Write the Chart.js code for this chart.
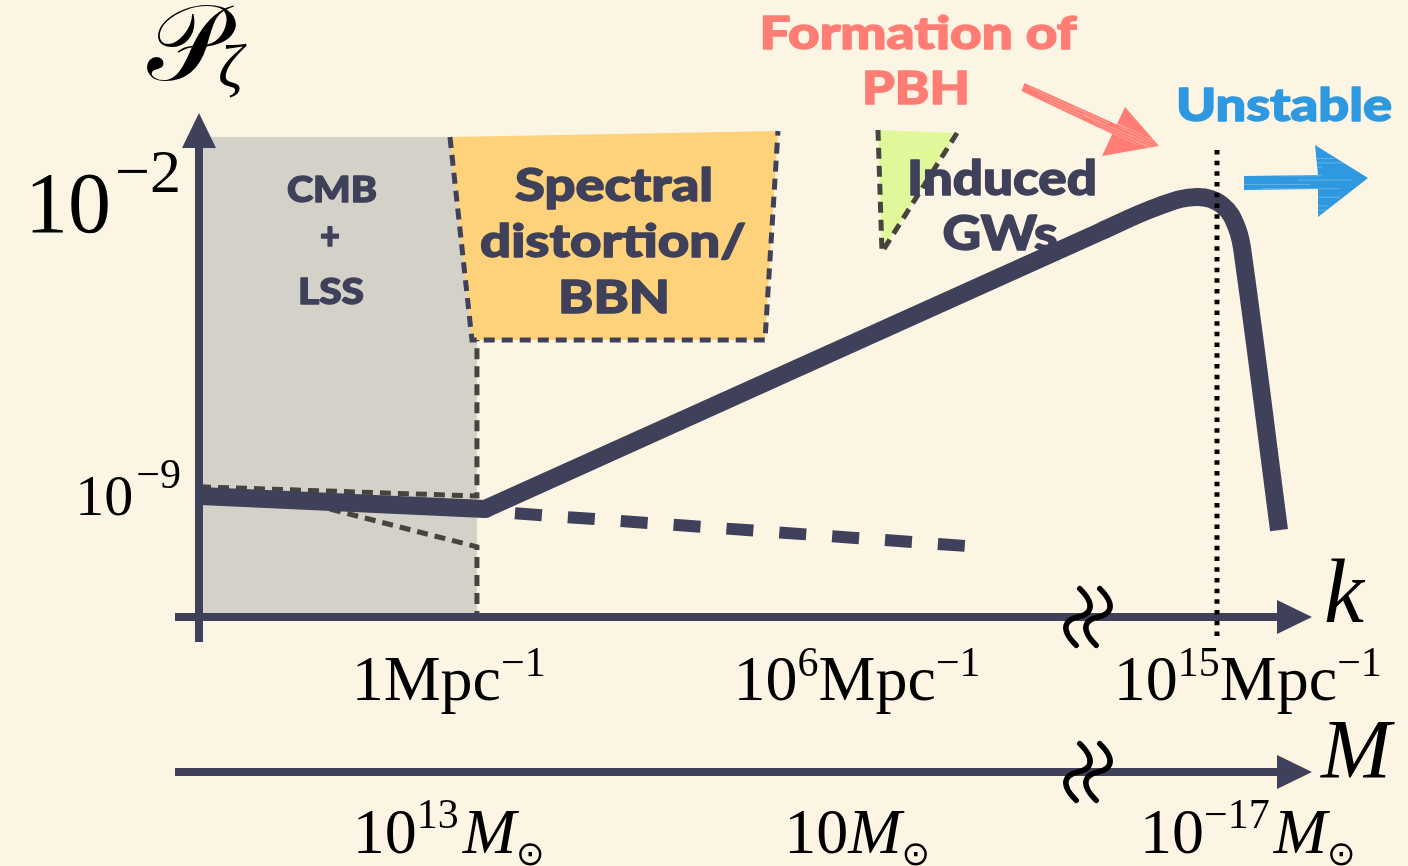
<!DOCTYPE html>
<html>
<head>
<meta charset="utf-8">
<script src="https://cdn.jsdelivr.net/npm/chart.js@4.4.1/dist/chart.umd.min.js"></script>
<style>
  html, body { margin: 0; padding: 0; background: #fdf5e3; }
  #wrap { width: 1408px; height: 866px; position: relative; }
</style>
</head>
<body>
<div id="wrap"><canvas id="c"></canvas></div>
<script>
// Horizontal axis: schematic position along the k axis (0 = P_zeta axis, 100 = arrow tip).
// Vertical axis: log10 of the curvature power spectrum P_zeta.

// Nearly scale-invariant spectrum on CMB scales
const slowRollX = [0, 25.68];
const slowRollY = [-9.12, -9.43];
// Enhanced growth up to the PBH peak and the sharp fall-off
const growthX = [25.68, 81.08, 86.49, 89.82, 92.07, 93.42, 94.05, 97.21];
const growthY = [-9.43, -2.83, -2.21, -2.00, -2.19, -2.74, -3.55, -9.93];
// Naive extrapolation of the slow-roll spectrum
const extrapX = [25.68, 69.10];
const extrapY = [-9.48, -10.31];
// Scale of PBH formation
const kPbh = 91.62;
const kPbhSpan = [-0.88, -12.55];

// Constraint regions
const cmbX = [0, 24.95, 24.95, 0];
const cmbY = [-0.571, -0.571, -12, -12];
const cmbUpperX = [0, 24.95, 24.95];
const cmbUpperY = [-8.90, -9.12, -5.405];
const cmbLowerX = [11.71, 24.95, 24.95];
const cmbLowerY = [-9.43, -10.33, -12];
const sdX = [22.52, 52.07, 50.90, 24.50];
const sdY = [-0.571, -0.429, -5.405, -5.405];
const sdEdgeX = [22.52, 24.50, 50.90, 52.07];
const sdEdgeY = [-0.571, -5.405, -5.405, -0.429];
const gwX = [61.08, 68.20, 61.44];
const gwY = [-0.405, -0.476, -3.31];
const gwEdgeX = [68.20, 61.44, 61.08];
const gwEdgeY = [-0.476, -3.31, -0.405];

// Tick labels
const pTickVals = [-2, -9];
const pTickExps = ['\u22122', '\u22129'];
const kTickPos = [22.4, 59.2, 94.4];
const kTickBase = ['1', '10', '10'];
const kTickExp = ['', '6', '15'];
const mTickBase = ['10', '10', '10'];
const mTickExp = ['13', '', '\u221217'];

const COL = {
  bg: '#fdf5e3', navy: '#3f4059', grey: '#d4d1c9', orange: '#fed27a',
  green: '#e1f89a', edge: '#46443e', pink: '#ff7d74', blue: '#2e99e0'
};

function pts(xs, ys) { return xs.map((x, i) => ({ x: x, y: ys[i] })); }
function closed(xs, ys) { const p = pts(xs, ys); p.push({ x: xs[0], y: ys[0] }); return p; }

const base = { pointRadius: 0, pointHoverRadius: 0, fill: false, tension: 0 };
const edgeStyle = { borderWidth: 5, borderDash: [11, 7], borderCapStyle: 'butt' };
const areaStyle = { borderColor: 'rgba(0,0,0,0)', borderWidth: 0, fill: 'shape' };

const SERIF = '"Liberation Serif", "Times New Roman", serif';
const SANS = 'Lato, "Open Sans", sans-serif';

function rich(ctx, runs, x, y, align) {
  let w = 0;
  runs.forEach(r => { ctx.font = r.font; r.w = ctx.measureText(r.t).width; w += r.w + (r.gap || 0); });
  let cx = align === 'center' ? x - w / 2 : align === 'right' ? x - w : x;
  ctx.textAlign = 'left';
  ctx.textBaseline = 'alphabetic';
  runs.forEach(r => {
    ctx.font = r.font;
    ctx.fillText(r.t, cx, y + (r.dy || 0));
    cx += r.w + (r.gap || 0);
  });
}

// Heavy humanist sans label squeezed/stretched to a given width
function fitText(ctx, text, cx, baseline, width, size, color) {
  ctx.save();
  ctx.font = '900 ' + size + 'px ' + SANS;
  ctx.fillStyle = color;
  ctx.strokeStyle = color;
  ctx.lineWidth = 1.4;
  ctx.lineJoin = 'round';
  ctx.textAlign = 'center';
  ctx.textBaseline = 'alphabetic';
  const w = ctx.measureText(text).width;
  ctx.translate(cx, baseline);
  ctx.scale(width / w, 1);
  ctx.fillText(text, 0, 0);
  ctx.strokeText(text, 0, 0);
  ctx.restore();
}

function arrowRight(ctx, x0, x1, y) {
  ctx.beginPath();
  ctx.moveTo(x0, y);
  ctx.lineTo(x1 - 30, y);
  ctx.stroke();
  ctx.beginPath();
  ctx.moveTo(x1, y);
  ctx.lineTo(x1 - 35, y - 17);
  ctx.lineTo(x1 - 35, y + 17);
  ctx.closePath();
  ctx.fill();
}

// Axis-break symbol (two slanted tildes)
function breakMark(ctx, cx, cy) {
  ctx.save();
  ctx.strokeStyle = '#000';
  ctx.lineWidth = 5.5;
  ctx.lineCap = 'round';
  [-10, 10].forEach(off => {
    ctx.save();
    ctx.translate(cx + off, cy);
    ctx.rotate(-68 * Math.PI / 180);
    ctx.beginPath();
    ctx.moveTo(-27, 9);
    ctx.bezierCurveTo(-17, -15, -6, -9, 0, 0);
    ctx.bezierCurveTo(6, 9, 17, 15, 27, -9);
    ctx.stroke();
    ctx.restore();
  });
  ctx.restore();
}

// Crayon-like fill: solid shape plus faint streaks running along it
function crayon(ctx, pathFn, color, streakAngle, streaks) {
  ctx.save();
  ctx.fillStyle = color;
  pathFn();
  ctx.fill();
  ctx.clip();
  ctx.strokeStyle = 'rgba(253,245,227,0.28)';
  ctx.lineWidth = 1;
  streaks.forEach(s => {
    ctx.beginPath();
    ctx.moveTo(s[0], s[1]);
    ctx.lineTo(s[0] + Math.cos(streakAngle) * s[2], s[1] + Math.sin(streakAngle) * s[2]);
    ctx.stroke();
  });
  ctx.restore();
}

const schematic = {
  id: 'schematic',
  beforeDraw(chart) {
    const ctx = chart.ctx;
    ctx.save();
    ctx.fillStyle = COL.bg;
    ctx.fillRect(0, 0, chart.width, chart.height);
    ctx.restore();
  },
  afterDatasetDraw(chart, args) {
    // after the shaded regions, before the spectrum itself
    if (args.index !== 4) return;
    const ctx = chart.ctx;
    const xs = chart.scales.x, ys = chart.scales.y;
    const x0 = xs.getPixelForValue(0) - 1;
    const yk = ys.getPixelForValue(-12);
    const ym = yk + 155;
    const xEnd = xs.getPixelForValue(100) + 2;
    const yTop = ys.getPixelForValue(0);
    ctx.save();
    ctx.strokeStyle = COL.navy;
    ctx.fillStyle = COL.navy;
    ctx.lineWidth = 8;
    // P_zeta axis
    ctx.beginPath();
    ctx.moveTo(x0, yk + 25);
    ctx.lineTo(x0, yTop + 30);
    ctx.stroke();
    ctx.beginPath();
    ctx.moveTo(x0, yTop);
    ctx.lineTo(x0 - 17, yTop + 35);
    ctx.lineTo(x0 + 17, yTop + 35);
    ctx.closePath();
    ctx.fill();
    // k and M axes
    arrowRight(ctx, x0 - 24, xEnd, yk);
    arrowRight(ctx, x0 - 24, xEnd, ym);

    // region labels
    fitText(ctx, 'CMB', 332, 202, 90, 36, COL.navy);
    fitText(ctx, '+', 330, 249, 20, 38, COL.navy);
    fitText(ctx, 'LSS', 331, 304, 66, 36, COL.navy);
    fitText(ctx, 'Spectral', 614, 201, 198, 46, COL.navy);
    fitText(ctx, 'distortion/', 613, 257, 266, 46, COL.navy);
    fitText(ctx, 'BBN', 614, 313, 112, 46, COL.navy);
    fitText(ctx, 'Induced', 1002, 195, 190, 47, COL.navy);
    fitText(ctx, 'GWs', 1000, 250, 115, 47, COL.navy);
    ctx.restore();
  },
  afterDraw(chart) {
    const ctx = chart.ctx;
    const xs = chart.scales.x, ys = chart.scales.y;
    const yk = ys.getPixelForValue(-12);
    const ym = yk + 155;
    const breakX = xs.getPixelForValue(80.0);
    ctx.save();
    breakMark(ctx, breakX, yk);
    breakMark(ctx, breakX, ym);

    ctx.fillStyle = '#000';
    // P_zeta ticks
    const pSizes = [86, 58];
    pTickVals.forEach((v, i) => {
      const s = pSizes[i];
      const py = ys.getPixelForValue(v) + 0.41 * s;
      rich(ctx, [
        { t: '10', font: s + 'px ' + SERIF, gap: Math.round(s * 0.05) },
        { t: pTickExps[i], font: Math.round(s * 0.72) + 'px ' + SERIF, dy: -Math.round(s * 0.47) }
      ], 181, py, 'right');
    });
    // k ticks
    kTickPos.forEach((v, i) => {
      const runs = [{ t: kTickBase[i], font: '64px ' + SERIF }];
      if (kTickExp[i]) runs.push({ t: kTickExp[i], font: '42px ' + SERIF, dy: -24 });
      runs.push({ t: 'Mpc', font: '64px ' + SERIF });
      runs.push({ t: '\u22121', font: '42px ' + SERIF, dy: -24 });
      rich(ctx, runs, xs.getPixelForValue(v), yk + 83, 'center');
    });
    // M ticks
    kTickPos.forEach((v, i) => {
      const runs = [{ t: mTickBase[i], font: '64px ' + SERIF }];
      if (mTickExp[i]) runs.push({ t: mTickExp[i], font: '42px ' + SERIF, dy: -25, gap: 4 });
      runs.push({ t: 'M', font: 'italic 64px ' + SERIF });
      runs.push({ t: '\u2299', font: '34px "DejaVu Sans"', dy: 12 });
      rich(ctx, runs, xs.getPixelForValue(v), ym + 81, 'center');
    });
    // axis titles
    ctx.textAlign = 'left';
    ctx.textBaseline = 'alphabetic';
    ctx.font = '108px "DejaVu Serif", "DejaVu Sans", serif';
    ctx.fillText('\uD835\uDCAB', 147, 80);
    ctx.font = 'italic 62px ' + SERIF;
    ctx.fillText('\u03B6', 218, 87);
    ctx.font = 'italic 90px ' + SERIF;
    ctx.fillText('k', 1324, 622);
    ctx.font = 'italic 84px ' + SERIF;
    ctx.fillText('M', 1321, 778);

    // headings
    fitText(ctx, 'Formation of', 918, 49, 317, 46, COL.pink);
    fitText(ctx, 'PBH', 916, 104, 108, 46, COL.pink);
    fitText(ctx, 'Unstable', 1284, 121, 216, 46, COL.blue);

    // pink pointer towards the peak
    const pinkStreaks = [];
    for (let j = 0; j < 14; j++) pinkStreaks.push([1020 + j * 9, 80 + (j % 5) * 3 + j * 4, 40 + (j % 3) * 15]);
    crayon(ctx, () => {
      ctx.beginPath();
      ctx.moveTo(1024.5, 83.0);
      ctx.lineTo(1120.1, 126.0);
      ctx.lineTo(1115.9, 136.0);
      ctx.lineTo(1021.5, 91.0);
      ctx.closePath();
      ctx.moveTo(1125, 107);
      ctx.lineTo(1159, 146);
      ctx.lineTo(1102, 156);
      ctx.closePath();
    }, COL.pink, Math.atan2(44, 95), pinkStreaks);

    // blue arrow for the unstable direction
    const blueStreaks = [];
    for (let j = 0; j < 16; j++) blueStreaks.push([1244 + (j % 4) * 18, 150 + j * 4.3, 30 + (j % 5) * 12]);
    crayon(ctx, () => {
      ctx.beginPath();
      ctx.moveTo(1244, 176);
      ctx.lineTo(1318, 175);
      ctx.lineTo(1315, 145);
      ctx.lineTo(1368, 178);
      ctx.lineTo(1318, 217);
      ctx.lineTo(1318, 189);
      ctx.lineTo(1244, 190);
      ctx.closePath();
    }, COL.blue, 0, blueStreaks);
    ctx.restore();
  }
};

new Chart(document.getElementById('c'), {
  type: 'line',
  data: {
    datasets: [
      { ...base, data: pts([kPbh, kPbh], kPbhSpan), borderColor: '#000', borderWidth: 5, borderDash: [4.5, 6.2], clip: false },
      { ...base, data: pts(growthX, growthY), borderColor: COL.navy, borderWidth: 18, tension: 0.4, borderCapStyle: 'butt' },
      { ...base, data: pts(slowRollX, slowRollY), borderColor: COL.navy, borderWidth: 18, borderCapStyle: 'round',
        clip: { left: 0, top: false, right: false, bottom: false } },
      { ...base, data: pts(extrapX, extrapY), borderColor: COL.navy, borderWidth: 12, borderDash: [27, 26], borderDashOffset: 23 },
      { ...base, ...edgeStyle, data: pts(gwEdgeX, gwEdgeY), borderColor: COL.edge },
      { ...base, ...edgeStyle, data: pts(sdEdgeX, sdEdgeY), borderColor: COL.navy },
      { ...base, ...edgeStyle, data: pts(cmbLowerX, cmbLowerY), borderColor: COL.edge },
      { ...base, ...edgeStyle, data: pts(cmbUpperX, cmbUpperY), borderColor: COL.edge },
      { ...base, ...areaStyle, data: closed(gwX, gwY), backgroundColor: COL.green },
      { ...base, ...areaStyle, data: closed(sdX, sdY), backgroundColor: COL.orange },
      { ...base, ...areaStyle, data: closed(cmbX, cmbY), backgroundColor: COL.grey }
    ]
  },
  options: {
    responsive: true,
    maintainAspectRatio: false,
    animation: false,
    events: [],
    layout: { padding: { left: 200, right: 98, top: 113, bottom: 249 } },
    scales: {
      x: { type: 'linear', min: 0, max: 100, display: false },
      y: { type: 'linear', min: -12, max: 0, display: false }
    },
    plugins: { legend: { display: false }, tooltip: { enabled: false } }
  },
  plugins: [schematic]
});
</script>
</body>
</html>
